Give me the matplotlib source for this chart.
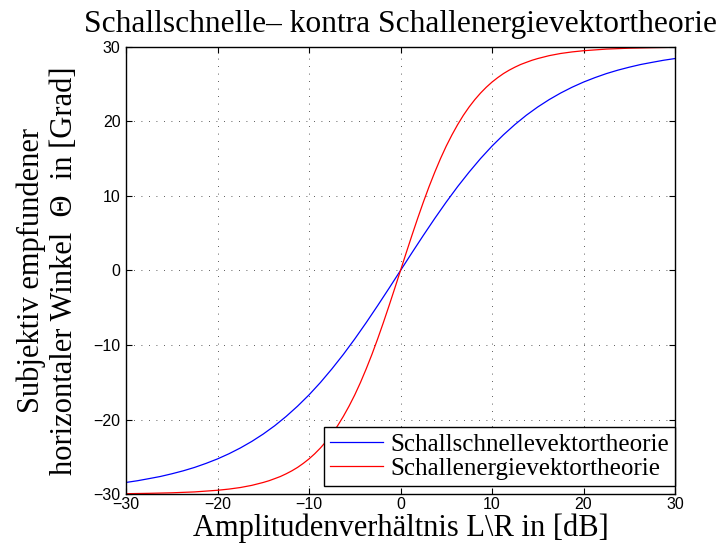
import matplotlib
matplotlib.use("Agg")
import matplotlib.pyplot as plt

# values (perceived angle in degrees vs level difference L\R in dB)
x_blue = [-30, -28.75, -27.5, -26.25, -25, -23.75, -22.5, -21.25, -20, -18.75, -17.5, -16.25,
          -15, -13.75, -12.5, -11.25, -10, -8.75, -7.5, -6.25, -5, -3.75, -2.5, -1.25, 0,
          1.25, 2.5, 3.75, 5, 6.25, 7.5, 8.75, 10, 11.25, 12.5, 13.75, 15,
          16.25, 17.5, 18.75, 20, 21.25, 22.5, 23.75, 25, 26.25, 27.5, 28.75, 30]
y_blue = [-28.45, -28.22, -27.94, -27.65, -27.29, -26.89, -26.43, -25.89, -25.29, -24.60, -23.82, -22.94,
          -21.95, -20.84, -19.59, -18.21, -16.70, -15.03, -13.21, -11.27, -9.19, -7.00, -4.72, -2.38, 0,
          2.38, 4.72, 7.00, 9.19, 11.27, 13.21, 15.03, 16.70, 18.21, 19.59, 20.84, 21.95,
          22.94, 23.82, 24.60, 25.29, 25.89, 26.43, 26.89, 27.29, 27.65, 27.94, 28.22, 28.45]

x_red = [-30, -27.5, -25, -22.5, -20, -18.75, -17.5, -16.25, -15,
         -14.375, -13.75, -13.125, -12.5, -11.875, -11.25, -10.625, -10, -9.375, -8.75, -8.125,
         -7.5, -6.875, -6.25, -5.625, -5, -4.375, -3.75, -3.125, -2.5, -1.875, -1.25, -0.625, 0,
         0.625, 1.25, 1.875, 2.5, 3.125, 3.75, 4.375, 5, 5.625, 6.25, 6.875, 7.5,
         8.125, 8.75, 9.375, 10, 10.625, 11.25, 11.875, 12.5, 13.125, 13.75, 14.375,
         15, 16.25, 17.5, 18.75, 20, 22.5, 25, 27.5, 30]
y_red = [-29.96, -29.91, -29.84, -29.72, -29.50, -29.34, -29.13, -28.84, -28.45,
         -28.22, -27.94, -27.65, -27.29, -26.89, -26.43, -25.89, -25.29, -24.60, -23.82, -22.94,
         -21.95, -20.84, -19.59, -18.21, -16.70, -15.03, -13.21, -11.27, -9.19, -7.00, -4.72, -2.38, 0,
         2.38, 4.72, 7.00, 9.19, 11.27, 13.21, 15.03, 16.70, 18.21, 19.59, 20.84, 21.95,
         22.94, 23.82, 24.60, 25.29, 25.89, 26.43, 26.89, 27.29, 27.65, 27.94, 28.22,
         28.45, 28.84, 29.13, 29.34, 29.50, 29.72, 29.84, 29.91, 29.96]

ticks = [-30, -20, -10, 0, 10, 20, 30]
tick_labels = ["\u221230", "\u221220", "\u221210", "0", "10", "20", "30"]
serif = "Liberation Serif"
sans = "Liberation Sans"

fig = plt.figure(figsize=(7.2, 5.52), dpi=100)
ax = fig.add_axes([126 / 720, 1 - 494 / 552, 549 / 720, 447 / 552])

ax.plot(x_blue, y_blue, color="#0000ff", lw=0.9, label="Schallschnellevektortheorie")
ax.plot(x_red, y_red, color="#ff0000", lw=0.9, label="Schallenergievektortheorie")

ax.set_xlim(-30, 30)
ax.set_ylim(-30, 30)
ax.set_xticks(ticks)
ax.set_yticks(ticks)
ax.set_xticklabels(tick_labels, family=sans, fontsize=11.5)
ax.set_yticklabels(tick_labels, family=sans, fontsize=11.5)
ax.tick_params(direction="in", length=4, width=0.8, top=True, right=True)
ax.tick_params(axis="x", pad=2.5)
ax.tick_params(axis="y", pad=4)
ax.grid(True, color="0.15", linestyle=(0, (1, 8)), linewidth=0.6)
for s in ax.spines.values():
    s.set_linewidth(1)

ax.set_title("Schallschnelle\u2013 kontra Schallenergievektortheorie", family=serif, fontsize=22.7, pad=11)
ax.set_xlabel("Amplitudenverh\u00e4ltnis L\\R in [dB]", family=serif, fontsize=22, labelpad=1)
ax.set_ylabel("Subjektiv empfundener\nhorizontaler Winkel  \u0398  in [Grad]", family=serif, fontsize=22,
              labelpad=10, linespacing=1.2)

leg = ax.legend(loc="lower right", bbox_to_anchor=(1.0, 8 / 447), borderaxespad=0,
                prop={"family": serif, "size": 18}, fancybox=False,
                edgecolor="black", framealpha=1, handlelength=2.1,
                borderpad=0.25, labelspacing=0.05, handletextpad=0.3)
leg.get_frame().set_linewidth(1)

fig.savefig("out.png", dpi=100)
